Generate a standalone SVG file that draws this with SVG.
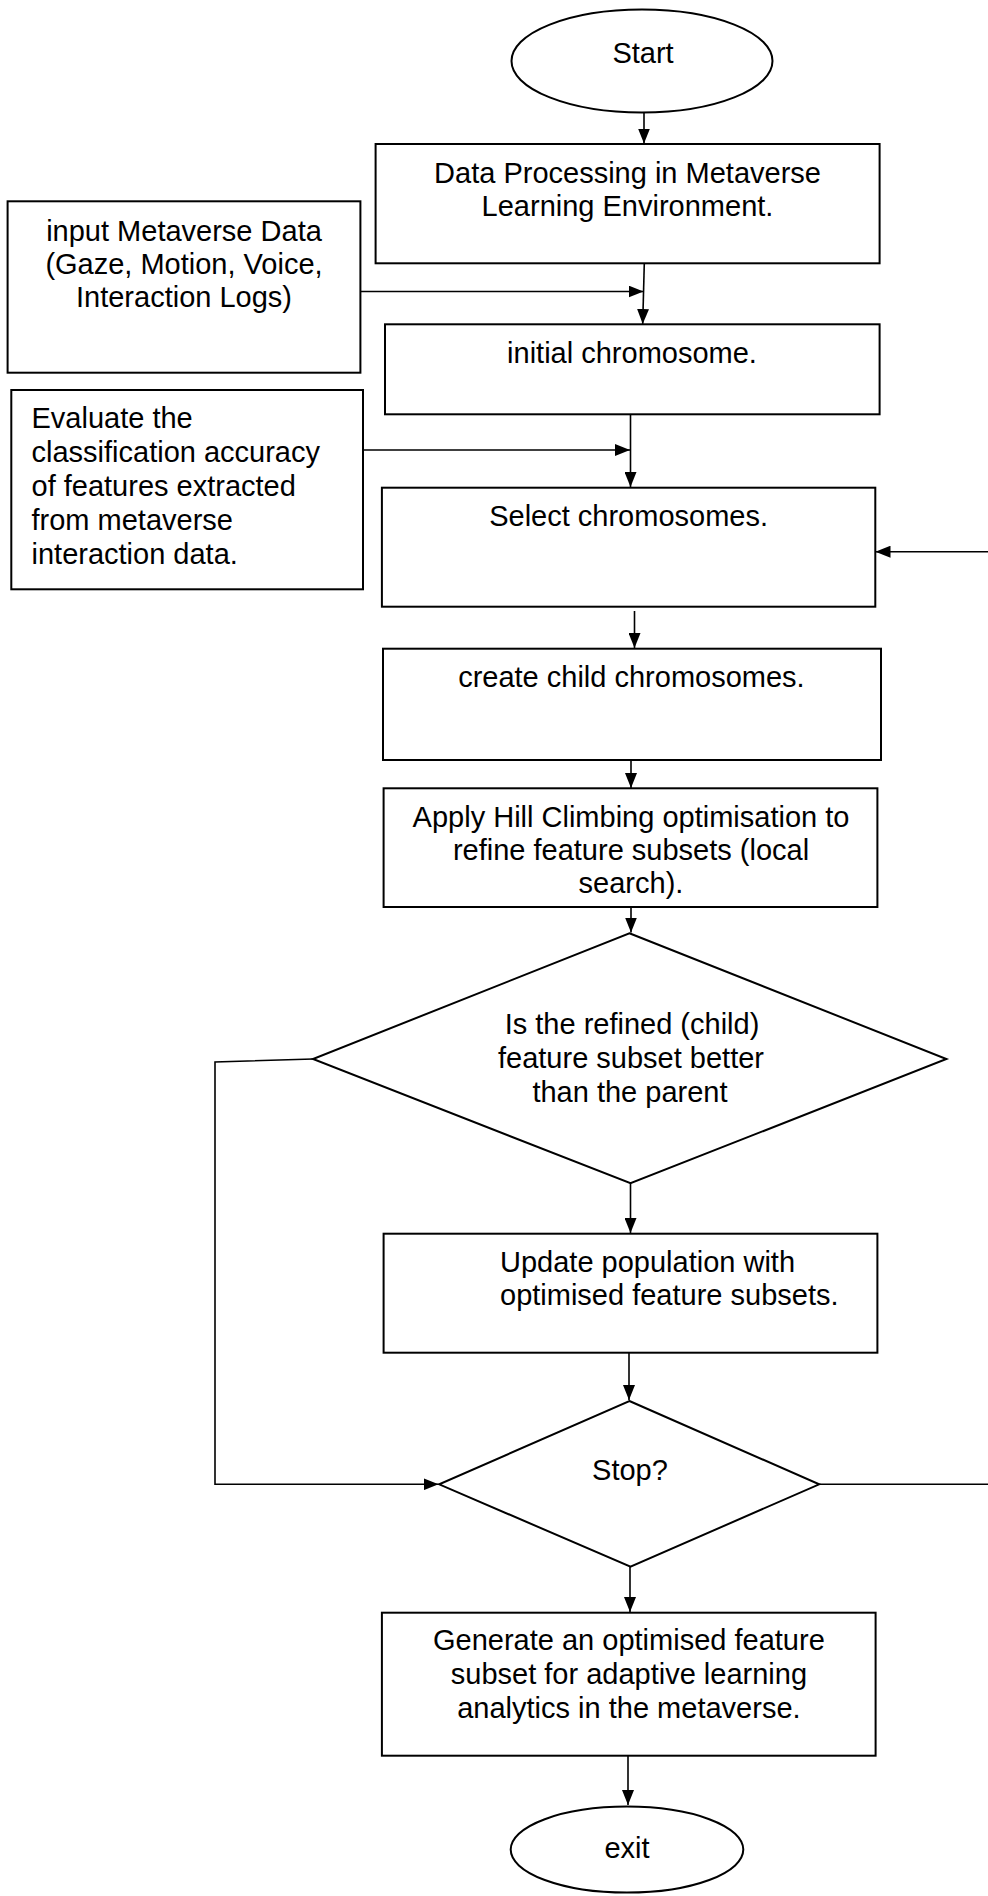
<svg xmlns="http://www.w3.org/2000/svg" width="988" height="1896" viewBox="0 0 988 1896">
  <style>
    .shape { fill: #ffffff; stroke: #000000; stroke-width: 2; }
    .edge { fill: none; stroke: #000000; stroke-width: 1.6; }
    .label { font-family: "Liberation Sans", Arial, sans-serif; font-size: 29px; fill: #000000; }
    .mid { text-anchor: middle; }
  </style>
  <defs>
    <marker id="arrow" markerUnits="userSpaceOnUse" markerWidth="15" markerHeight="12" refX="15" refY="6" orient="auto">
      <path d="M0,0 L15,6 L0,12 Z" fill="#000000"/>
    </marker>
  </defs>

  <rect width="988" height="1896" fill="#ffffff"/>

  <!-- connectors -->
  <g id="connectors">
    <line class="edge" x1="644" y1="113" x2="644" y2="143.5" marker-end="url(#arrow)"/>
    <line class="edge" x1="360.4" y1="291.5" x2="643.5" y2="291.5" marker-end="url(#arrow)"/>
    <line class="edge" x1="644.3" y1="263" x2="642.7" y2="324" marker-end="url(#arrow)"/>
    <line class="edge" x1="363" y1="450" x2="630" y2="450" marker-end="url(#arrow)"/>
    <line class="edge" x1="630.5" y1="414" x2="630.5" y2="487" marker-end="url(#arrow)"/>
    <line class="edge" x1="634.5" y1="611" x2="634.5" y2="648" marker-end="url(#arrow)"/>
    <line class="edge" x1="631" y1="760" x2="631" y2="788" marker-end="url(#arrow)"/>
    <line class="edge" x1="631" y1="907" x2="631" y2="932.5" marker-end="url(#arrow)"/>
    <line class="edge" x1="630.5" y1="1183.3" x2="630.5" y2="1233" marker-end="url(#arrow)"/>
    <line class="edge" x1="629" y1="1350.7" x2="629" y2="1400" marker-end="url(#arrow)"/>
    <line class="edge" x1="630" y1="1566" x2="630" y2="1612" marker-end="url(#arrow)"/>
    <line class="edge" x1="628" y1="1755.7" x2="628" y2="1805" marker-end="url(#arrow)"/>
    <!-- "not better" branch back to the stop test -->
    <polyline class="edge" points="313,1059 215,1062 215,1484.3 438.5,1484.3" marker-end="url(#arrow)"/>
    <!-- "continue" branch back to selection -->
    <path class="edge" d="M819.2,1484.3 H994 V551.7 H875.5" marker-end="url(#arrow)"/>
  </g>

  <g id="start">
    <ellipse class="shape" cx="642" cy="61" rx="130.5" ry="51.5"/>
    <text class="label mid" x="643" y="63">Start</text>
  </g>

  <g id="data-processing">
    <rect class="shape" x="375.6" y="144" width="504" height="119.3"/>
    <text class="label mid" x="627.5" y="182.7">Data Processing in Metaverse</text>
    <text class="label mid" x="627.5" y="216">Learning Environment.</text>
  </g>

  <g id="input-data">
    <rect class="shape" x="7.6" y="201.3" width="352.8" height="171.4"/>
    <text class="label mid" x="184" y="241">input Metaverse Data</text>
    <text class="label mid" x="184" y="274">(Gaze, Motion, Voice,</text>
    <text class="label mid" x="184" y="307">Interaction Logs)</text>
  </g>

  <g id="initial-chromosome">
    <rect class="shape" x="385" y="324.3" width="494.6" height="90"/>
    <text class="label mid" x="632" y="362.7">initial chromosome.</text>
  </g>

  <g id="evaluate">
    <rect class="shape" x="11.3" y="390" width="351.7" height="199.3"/>
    <text class="label" x="31.5" y="428">Evaluate the</text>
    <text class="label" x="31.5" y="462">classification accuracy</text>
    <text class="label" x="31.5" y="496">of features extracted</text>
    <text class="label" x="31.5" y="530">from metaverse</text>
    <text class="label" x="31.5" y="563.5">interaction data.</text>
  </g>

  <g id="select">
    <rect class="shape" x="381.9" y="487.7" width="493.4" height="119"/>
    <text class="label mid" x="628.6" y="525.7">Select chromosomes.</text>
  </g>

  <g id="create-child">
    <rect class="shape" x="383" y="648.7" width="498" height="111.3"/>
    <text class="label mid" x="631.4" y="686.7">create child chromosomes.</text>
  </g>

  <g id="hill-climbing">
    <rect class="shape" x="383.6" y="788.3" width="493.8" height="118.7"/>
    <text class="label mid" x="631" y="826.7">Apply Hill Climbing optimisation to</text>
    <text class="label mid" x="631" y="860">refine feature subsets (local</text>
    <text class="label mid" x="631" y="893.3">search).</text>
  </g>

  <g id="better-test">
    <polygon class="shape" points="629.4,933.3 946.4,1059 630.5,1183.3 313,1059"/>
    <text class="label mid" x="632" y="1034.3">Is the refined (child)</text>
    <text class="label mid" x="631" y="1068.3">feature subset better</text>
    <text class="label mid" x="630" y="1101.7">than the parent</text>
  </g>

  <g id="update-population">
    <rect class="shape" x="383.6" y="1233.7" width="493.8" height="119"/>
    <text class="label" x="500" y="1271.7">Update population with</text>
    <text class="label" x="500" y="1305">optimised feature subsets.</text>
  </g>

  <g id="stop-test">
    <polygon class="shape" points="629.4,1401 819.2,1484.3 630.5,1566.7 439.2,1484.3"/>
    <text class="label mid" x="630" y="1480">Stop?</text>
  </g>

  <g id="generate">
    <rect class="shape" x="381.9" y="1612.7" width="493.7" height="143"/>
    <text class="label mid" x="628.9" y="1650">Generate an optimised feature</text>
    <text class="label mid" x="628.9" y="1684.3">subset for adaptive learning</text>
    <text class="label mid" x="628.9" y="1717.7">analytics in the metaverse.</text>
  </g>

  <g id="exit">
    <ellipse class="shape" cx="627" cy="1849.6" rx="116.3" ry="43"/>
    <text class="label mid" x="627" y="1858">exit</text>
  </g>
</svg>
